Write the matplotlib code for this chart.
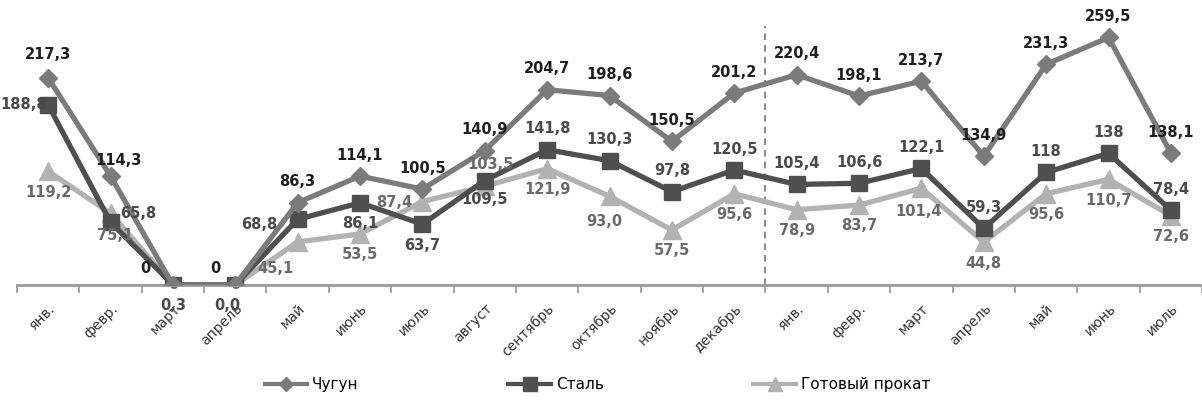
import matplotlib
matplotlib.use("Agg")
import matplotlib.pyplot as plt
from matplotlib.lines import Line2D

months = ["янв.", "февр.", "март", "апрель", "май", "июнь", "июль", "август",
          "сентябрь", "октябрь", "ноябрь", "декабрь", "янв.", "февр.", "март",
          "апрель", "май", "июнь", "июль"]

iron = [217.3, 114.3, 0, 0, 86.3, 114.1, 100.5, 140.9, 204.7, 198.6, 150.5,
        201.2, 220.4, 198.1, 213.7, 134.9, 231.3, 259.5, 138.1]
steel = [188.8, 65.8, 0.3, 0.0, 68.8, 86.1, 63.7, 109.5, 141.8, 130.3, 97.8,
         120.5, 105.4, 106.6, 122.1, 59.3, 118, 138, 78.4]
rolled = [119.2, 75.1, 0, 0, 45.1, 53.5, 87.4, 103.5, 121.9, 93.0, 57.5,
          95.6, 78.9, 83.7, 101.4, 44.8, 95.6, 110.7, 72.6]

iron_txt = ["217,3", "114,3", "0", "0", "86,3", "114,1", "100,5", "140,9", "204,7",
            "198,6", "150,5", "201,2", "220,4", "198,1", "213,7", "134,9", "231,3",
            "259,5", "138,1"]
steel_txt = ["188,8", "65,8", "0,3", "0,0", "68,8", "86,1", "63,7", "109,5", "141,8",
             "130,3", "97,8", "120,5", "105,4", "106,6", "122,1", "59,3", "118",
             "138", "78,4"]
rolled_txt = ["119,2", "75,1", "0", "0", "45,1", "53,5", "87,4", "103,5", "121,9",
              "93,0", "57,5", "95,6", "78,9", "83,7", "101,4", "44,8", "95,6",
              "110,7", "72,6"]

# label offsets (points); None = hidden behind the marker
UP, DOWN = (0, 15), (0, -15)
iron_off = [(0, 17), (6, 11), (-20, 12), (-14, 12)] + [UP] * 15
steel_off = [(-18, 0), (20, 6), (0, -15), (-6, -15), (-28, -4), DOWN, DOWN, (0, -14)] + [UP] * 11
rolled_off = [DOWN, (3, -16), None, None, (-16, -19), DOWN, (-20, -1), (4, 16),
              DOWN, (-4, -18), DOWN, DOWN, DOWN, DOWN, (-2, -17), DOWN, DOWN, DOWN, DOWN]

plt.rcParams["font.family"] = ["DejaVu Sans"]

fig = plt.figure(figsize=(12.02, 4.03), dpi=100)
ax = fig.add_axes([0.0141, 0.293, 0.986, 0.6625])

x = list(range(len(months)))
c_iron, c_steel, c_rolled = "#7b7b7b", "#4f4f4f", "#b2b2b2"

ax.plot(x, rolled, "-^", color=c_rolled, lw=3.8, ms=13, zorder=3)
ax.plot(x, steel, "-s", color=c_steel, lw=3.8, ms=12, zorder=4)
ax.plot(x, iron, "-D", color=c_iron, lw=3.8, ms=9, zorder=5)

for vals, txts, offs, col in [(rolled, rolled_txt, rolled_off, "#6a6a6a"),
                              (steel, steel_txt, steel_off, "#4a4a4a"),
                              (iron, iron_txt, iron_off, "#1e1e1e")]:
    for xi, v, t, o in zip(x, vals, txts, offs):
        z = 6
        if o is None:
            o, z = (0, 0), 2
        ax.annotate(t, (xi, v), xytext=o, textcoords="offset points",
                    ha="center", va="center", fontsize=10.5, fontweight="bold",
                    color=col, zorder=z)

ax.axvline(11.5, ymin=0, ymax=0.97, color="#777777", lw=1.2, ls=(0, (4, 3)), zorder=1)

ax.set_xlim(-0.5, 18.45)
ax.set_ylim(0, 280)
for s in ["top", "right", "left"]:
    ax.spines[s].set_visible(False)
ax.spines["bottom"].set_color("#9a9a9a")
ax.spines["bottom"].set_linewidth(2)
ax.set_yticks([])
ax.set_xticks(x)
ax.set_xticklabels(months, rotation=45, ha="right", rotation_mode="anchor",
                   fontsize=10, color="#333333")
ax.tick_params(axis="x", which="major", length=0, pad=12)
ax.set_xticks([i - 0.5 for i in range(len(months) + 1)], minor=True)
ax.tick_params(axis="x", which="minor", length=6, width=1.2, color="#9a9a9a")

handles = [Line2D([], [], color=c_iron, marker="D", lw=3, ms=7),
           Line2D([], [], color=c_steel, marker="s", lw=3, ms=10),
           Line2D([], [], color=c_rolled, marker="^", lw=3, ms=10)]
fig.legend(handles, ["Чугун", "Сталь", "Готовый прокат"], loc="center",
           bbox_to_anchor=(0.497, 0.045), ncol=3, frameon=False, fontsize=11,
           handlelength=2.8, columnspacing=9.8, handletextpad=0.3)

fig.savefig("out.png", dpi=100)
